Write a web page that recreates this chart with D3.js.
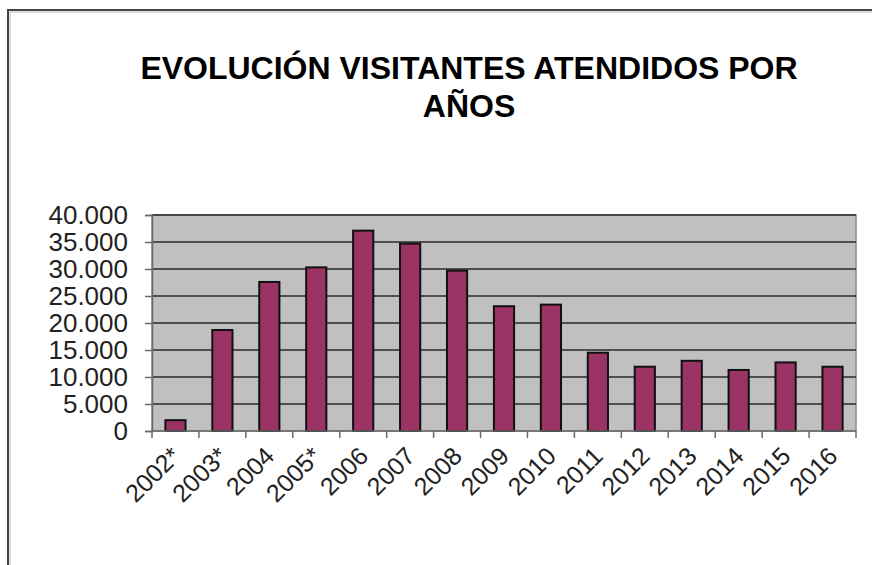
<!DOCTYPE html>
<html>
<head>
<meta charset="utf-8">
<script src="https://cdn.jsdelivr.net/npm/d3@7"></script>
<style>
  body { margin: 0; background: #fff; }
  svg { display: block; }
</style>
</head>
<body>
<div id="chart"></div>
<script>
var years = ["2002*", "2003*", "2004", "2005*", "2006", "2007", "2008", "2009",
             "2010", "2011", "2012", "2013", "2014", "2015", "2016"];
var visitors = [2000, 18700, 27600, 30300, 37100, 34700, 29700, 23100,
                23400, 14500, 11900, 13000, 11300, 12700, 11900];
var yTicks = [0, 5000, 10000, 15000, 20000, 25000, 30000, 35000, 40000];
var titleLines = ["EVOLUCIÓN VISITANTES ATENDIDOS POR", "AÑOS"];

var width = 872, height = 565,
    margin = { top: 215, right: 16, bottom: 134, left: 152 },
    innerWidth = width - margin.left - margin.right,
    innerHeight = height - margin.top - margin.bottom,
    font = "'Liberation Sans', Arial, sans-serif";

var data = years.map(function(d, i){ return { year: d, value: visitors[i] }; });

var svg = d3.select("#chart").append("svg")
    .attr("width", width)
    .attr("height", height);

// outer frame: only the left and top edges show in the picture
var frame = svg.append("g").attr("fill", "none");
frame.append("path")
    .attr("d", "M8," + height + "V10H" + width)
    .attr("stroke", "#444")
    .attr("stroke-width", 2);
frame.append("path")
    .attr("d", "M10," + height + "V12H" + width)
    .attr("stroke", "#bbb")
    .attr("stroke-width", 1);

// title
svg.append("g").selectAll("text")
    .data(titleLines)
  .enter().append("text")
    .attr("x", 469)
    .attr("y", function(d, i){ return 79 + i * 38; })
    .attr("text-anchor", "middle")
    .style("font-family", font)
    .style("font-weight", "bold")
    .style("font-size", "32px")
    .text(function(d){ return d; });

var g = svg.append("g")
    .attr("transform", "translate(" + margin.left + "," + margin.top + ")");

var xScale = d3.scaleBand()
    .domain(years)
    .range([0, innerWidth])
    .paddingInner(0.57)
    .paddingOuter(0.285);

var yScale = d3.scaleLinear()
    .domain([0, 40000])
    .range([innerHeight, 0]);

var fmt = function(v){ return d3.format(",")(v).replace(/,/g, "."); };

// plot background
g.append("rect")
    .attr("width", innerWidth)
    .attr("height", innerHeight)
    .attr("fill", "#c0c0c0")
    .attr("stroke", "#8c8c8c")
    .attr("stroke-width", 1.5);

// gridlines
g.selectAll(".grid")
    .data(yTicks.slice(1))
  .enter().append("line")
    .attr("class", "grid")
    .attr("x1", 0)
    .attr("x2", innerWidth)
    .attr("y1", function(d){ return yScale(d); })
    .attr("y2", function(d){ return yScale(d); })
    .attr("stroke", "#2a2a2a")
    .attr("stroke-width", 1.5);

// bars
g.selectAll(".bar")
    .data(data)
  .enter().append("rect")
    .attr("class", "bar")
    .attr("x", function(d){ return xScale(d.year); })
    .attr("width", xScale.bandwidth())
    .attr("y", function(d){ return yScale(d.value); })
    .attr("height", function(d){ return innerHeight - yScale(d.value); })
    .attr("fill", "#9b3365")
    .attr("stroke", "#111")
    .attr("stroke-width", 2);

// Y axis
var yAxis = d3.axisLeft(yScale)
    .tickValues(yTicks)
    .tickSize(7)
    .tickPadding(17)
    .tickFormat(fmt);

var yAxisG = g.append("g")
    .attr("class", "y-axis")
    .call(yAxis);
yAxisG.select(".domain").attr("stroke", "#6a6a6a").attr("stroke-width", 1.5);
yAxisG.selectAll(".tick line").attr("stroke", "#6a6a6a").attr("stroke-width", 1.5);
yAxisG.selectAll("text")
    .style("font-family", font)
    .style("font-size", "26px")
    .attr("fill", "#222");

// X axis, ticks sit at the band boundaries
var step = xScale.step();
var xAxisG = g.append("g")
    .attr("class", "x-axis")
    .attr("transform", "translate(0," + innerHeight + ")");

xAxisG.append("line")
    .attr("x1", 0).attr("x2", innerWidth)
    .attr("stroke", "#6a6a6a").attr("stroke-width", 1.5);

xAxisG.selectAll(".xtick")
    .data(d3.range(years.length + 1))
  .enter().append("line")
    .attr("class", "xtick")
    .attr("x1", function(i){ return i * step; })
    .attr("x2", function(i){ return i * step; })
    .attr("y1", 0).attr("y2", 7)
    .attr("stroke", "#6a6a6a").attr("stroke-width", 1.5);

xAxisG.selectAll(".xlabel")
    .data(years)
  .enter().append("text")
    .attr("class", "xlabel")
    .attr("transform", function(d){
        return "translate(" + (xScale(d) + xScale.bandwidth() / 2 - 6) + ",14) rotate(-45)";
    })
    .attr("dy", "0.71em")
    .attr("text-anchor", "end")
    .style("font-family", font)
    .style("font-size", "25px")
    .attr("fill", "#222")
    .text(function(d){ return d; });
</script>
</body>
</html>
